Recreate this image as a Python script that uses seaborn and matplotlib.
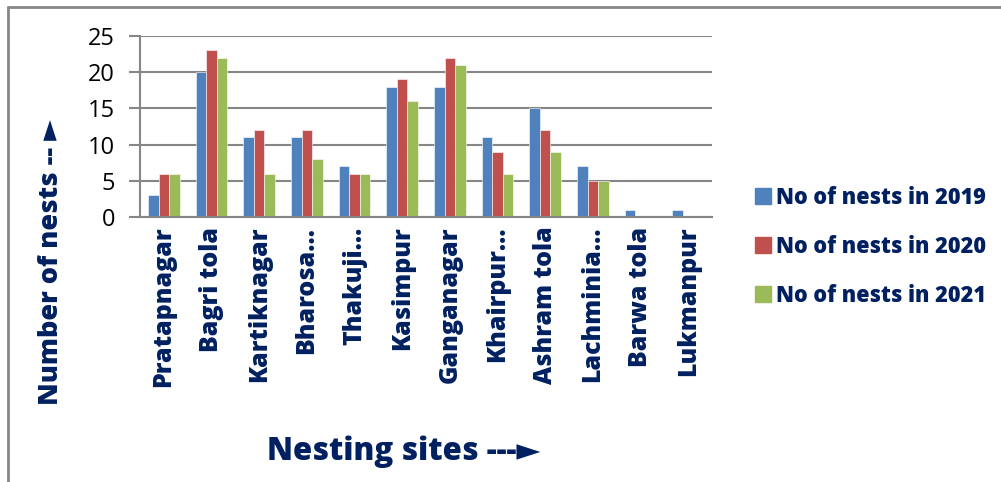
import matplotlib
matplotlib.use("Agg")
import matplotlib.pyplot as plt
from matplotlib.lines import Line2D
import seaborn as sns
import pandas as pd

# Nest counts per site and year
sites = ["Pratapnagar", "Bagri tola", "Kartiknagar", "Bharosa…", "Thakuji…",
         "Kasimpur", "Ganganagar", "Khairpur…", "Ashram tola", "Lachminia…",
         "Barwa tola", "Lukmanpur"]
nests_2019 = [3, 20, 11, 11, 7, 18, 18, 11, 15, 7, 1, 1]
nests_2020 = [6, 23, 12, 12, 6, 19, 22, 9, 12, 5, 0, 0]
nests_2021 = [6, 22, 6, 8, 6, 16, 21, 6, 9, 5, 0, 0]
series_names = ["No of nests in 2019", "No of nests in 2020", "No of nests in 2021"]
y_ticks = [0, 5, 10, 15, 20, 25]

df = pd.DataFrame({
    "site": sites * 3,
    "nests": nests_2019 + nests_2020 + nests_2021,
    "series": [s for s in series_names for _ in sites],
})

sns.set_theme(style="white")
plt.rcParams["font.family"] = ["Open Sans", "DejaVu Sans"]

navy = "#002060"
grid_gray = "#868686"
palette = ["#4F81BD", "#C0504D", "#9BBB59"]
heavy = 800

fig = plt.figure(figsize=(10.01, 4.82), dpi=100)
ax = fig.add_axes([140 / 1001, 1 - 217 / 482, (712 - 140) / 1001, (217 - 36) / 482])

sns.barplot(data=df, x="site", y="nests", hue="series", palette=palette,
            width=0.67, gap=0, saturation=1, ax=ax, legend=False,
            edgecolor="white", linewidth=0.4)

ax.set_ylim(0, 25)
ax.set_xlim(-0.5, len(sites) - 0.5)
ax.set_yticks(y_ticks)
ax.yaxis.grid(True, color=grid_gray, linewidth=1.5)
ax.set_axisbelow(True)

for side in ["top", "right"]:
    ax.spines[side].set_visible(False)
for side in ["left", "bottom"]:
    ax.spines[side].set_color(grid_gray)
    ax.spines[side].set_linewidth(1.5)

ax.tick_params(axis="y", which="major", direction="out", length=8, width=1.5,
               color=grid_gray, labelsize=17, labelcolor="black", pad=10, left=True)
ax.tick_params(axis="x", length=0, pad=7)
ax.set_xticks(range(len(sites)))
ax.set_xticklabels(sites, rotation=90, fontsize=18, fontweight=heavy, color=navy)

ax.set_xlabel("")
ax.set_ylabel("")

# axis titles with arrow glyphs
fig.text(404 / 1001, 1 - 452 / 482, "Nesting sites ---►", ha="center", va="center",
         fontsize=22.5, fontweight=heavy, color=navy)
fig.text(51 / 1001, 1 - 262 / 482, "Number of nests -- ►", ha="center", va="center",
         rotation=90, fontsize=19.5, fontweight=heavy, color=navy)

# legend
handles = [Line2D([0], [0], marker="s", linestyle="none", markersize=11.5,
                  markerfacecolor=c, markeredgecolor=c) for c in palette]
leg = fig.legend(handles, series_names, loc="center left",
                 bbox_to_anchor=(752 / 1001, 1 - 247 / 482), frameon=False,
                 borderaxespad=0, borderpad=0,
                 handletextpad=0.12, labelspacing=1.15, handlelength=1.0,
                 prop={"size": 15.6, "weight": heavy})
for t in leg.get_texts():
    t.set_color(navy)

# outer frame lines
fig.add_artist(Line2D([7.5 / 1001, 7.5 / 1001], [0, 1 - 6.5 / 482],
                      transform=fig.transFigure, color=grid_gray, linewidth=2))
fig.add_artist(Line2D([7.5 / 1001, 1], [1 - 6.5 / 482, 1 - 6.5 / 482],
                      transform=fig.transFigure, color=grid_gray, linewidth=2))

fig.savefig("out.png", dpi=100, facecolor="white")
